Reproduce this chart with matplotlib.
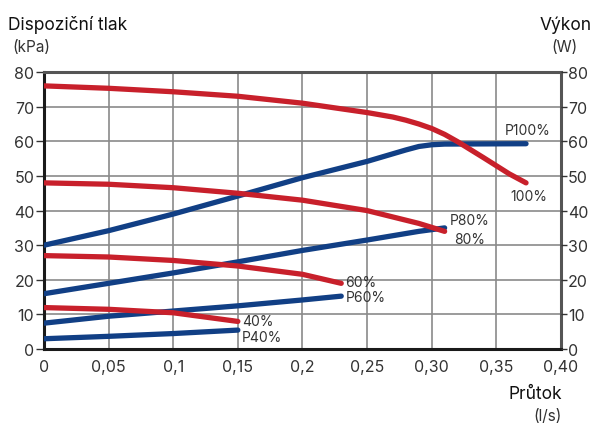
import matplotlib.pyplot as plt
import numpy as np

plt.rcParams['font.family'] = ['Inter', 'DejaVu Sans']

# flow (l/s) for each curve
flow_100 = [0, 0.05, 0.10, 0.15, 0.20, 0.25, 0.27, 0.28, 0.29, 0.30, 0.31, 0.32, 0.34, 0.36, 0.373]
press_100 = [76, 75.3, 74.3, 73, 71, 68.3, 67, 66.1, 65, 63.7, 62, 59.9, 55.3, 50.6, 48]
flow_80 = [0, 0.05, 0.10, 0.15, 0.20, 0.25, 0.29, 0.31]
press_80 = [48, 47.6, 46.6, 45, 43, 40, 36.3, 34]
flow_60 = [0, 0.05, 0.10, 0.15, 0.20, 0.23]
press_60 = [27, 26.6, 25.6, 24, 21.6, 19]
flow_40 = [0, 0.05, 0.10, 0.15]
press_40 = [12, 11.5, 10.5, 8]

pflow_100 = [0, 0.05, 0.10, 0.15, 0.20, 0.25, 0.27, 0.28, 0.29, 0.30, 0.31, 0.373]
power_100 = [30, 34.2, 39, 44.2, 49.5, 54.2, 56.4, 57.5, 58.5, 59, 59.2, 59.3]
pflow_80 = [0, 0.05, 0.10, 0.15, 0.20, 0.25, 0.29, 0.31]
power_80 = [16, 19, 22, 25.2, 28.5, 31.5, 34, 35]
pflow_60 = [0, 0.05, 0.10, 0.15, 0.20, 0.23]
power_60 = [7.5, 9.5, 11, 12.5, 14.2, 15.3]
pflow_40 = [0, 0.05, 0.10, 0.15]
power_40 = [3, 3.7, 4.5, 5.5]

x_ticks = [0, 0.05, 0.1, 0.15, 0.2, 0.25, 0.3, 0.35, 0.4]
x_labels = ['0', '0,05', '0,1', '0,15', '0,2', '0,25', '0,30', '0,35', '0,40']
y_ticks = [0, 10, 20, 30, 40, 50, 60, 70, 80]

red = '#c8202b'
blue = '#113f85'
txt = '#333333'

fig = plt.figure(figsize=(5.98, 4.27), dpi=100)
ax = fig.add_axes([0.0736, 0.180, 0.8644, 0.649])

for xs, ys in [(pflow_100, power_100), (pflow_80, power_80),
               (pflow_60, power_60), (pflow_40, power_40)]:
    ax.plot(xs, ys, color=blue, lw=3.8, solid_capstyle='round',
            solid_joinstyle='round', zorder=3)
for xs, ys in [(flow_100, press_100), (flow_80, press_80),
               (flow_60, press_60), (flow_40, press_40)]:
    ax.plot(xs, ys, color=red, lw=3.8, solid_capstyle='round',
            solid_joinstyle='round', zorder=3)

ax.set_xlim(0, 0.4)
ax.set_ylim(0, 80)
ax.set_xticks(x_ticks)
ax.set_xticklabels(x_labels)
ax.set_yticks(y_ticks)
ax.grid(True, color='#8a8a8a', lw=1.2)
ax.tick_params(axis='both', labelsize=11.5, colors=txt, length=6, width=1, pad=1)
ax.tick_params(axis='x', length=0, pad=7)

for side in ['left', 'bottom']:
    ax.spines[side].set_color('#1a1a1a')
    ax.spines[side].set_linewidth(2.2)
for side in ['top', 'right']:
    ax.spines[side].set_color('#555555')
    ax.spines[side].set_linewidth(2.2)

ax2 = ax.twinx()
ax2.set_ylim(0, 80)
ax2.set_yticks(y_ticks)
ax2.tick_params(axis='y', labelsize=11.5, colors=txt, length=4, width=1, pad=1)
for s in ax2.spines.values():
    s.set_visible(False)

# curve labels
lab = dict(fontsize=10, color=txt, zorder=5)
ax.text(0.374, 63.3, 'P100%', ha='center', va='center', **lab)
ax.text(0.375, 44.2, '100%', ha='center', va='center', **lab)
ax.text(0.329, 37.3, 'P80%', ha='center', va='center', **lab)
ax.text(0.329, 31.8, '80%', ha='center', va='center', **lab)
ax.text(0.233, 19.4, '60%', ha='left', va='center', **lab)
ax.text(0.2335, 15.0, 'P60%', ha='left', va='center', **lab)
ax.text(0.153, 8.1, '40%', ha='left', va='center', **lab)
ax.text(0.153, 3.5, 'P40%', ha='left', va='center', **lab)

# axis titles
fig.text(8 / 598, 1 - 25 / 427, 'Dispoziční tlak', fontsize=12.5, color='#111111', va='center')
fig.text(12 / 598, 1 - 48 / 427, '(kPa)', fontsize=11, color=txt, va='center')
fig.text(592 / 598, 1 - 25 / 427, 'Výkon', fontsize=12.5, color='#111111', va='center', ha='right')
fig.text(578 / 598, 1 - 48 / 427, '(W)', fontsize=11, color=txt, va='center', ha='right')
fig.text(562 / 598, 1 - 395 / 427, 'Průtok', fontsize=12.5, color='#111111', va='center', ha='right')
fig.text(562 / 598, 1 - 417 / 427, '(l/s)', fontsize=11, color=txt, va='center', ha='right')

fig.savefig('out.png', dpi=100)
